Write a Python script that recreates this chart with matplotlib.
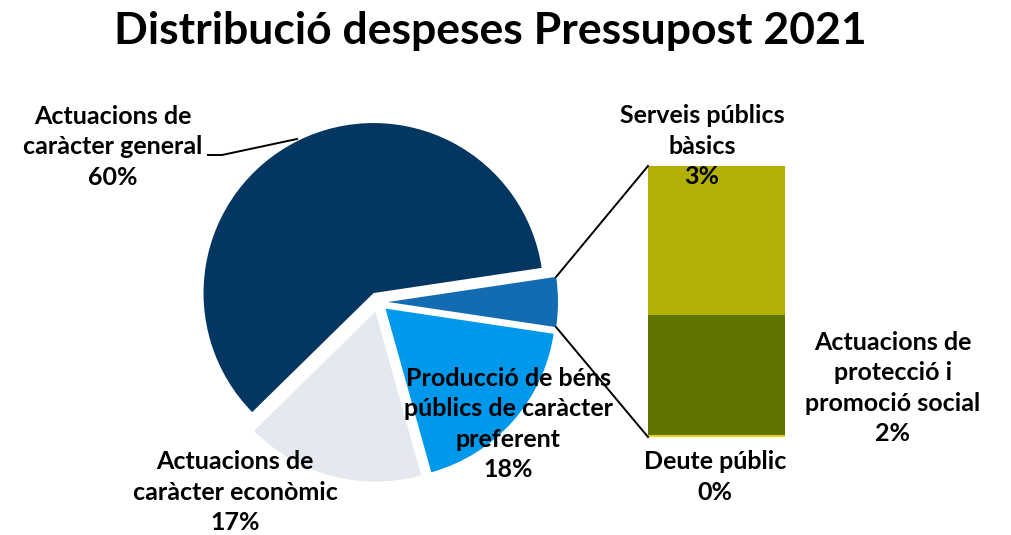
import math
import numpy as np
import matplotlib.pyplot as plt

plt.rcParams['font.family'] = ['Lato', 'DejaVu Sans']

title = "Distribució despeses Pressupost 2021"

pie_labels = ["Actuacions de\ncaràcter general",
              "Actuacions de\ncaràcter econòmic",
              "Producció de béns\npúblics de caràcter\npreferent"]
pie_values = [60.0, 17.0, 18.3]
pie_colors = ["#033762", "#E4E9F0", "#0098EA"]
other_color = "#136CB1"

bar_labels = ["Deute públic",
              "Actuacions de\nprotecció i\npromoció social",
              "Serveis públics\nbàsics"]
bar_values = [0.03, 2.1, 2.6]
bar_colors = ["#E8D000", "#607500", "#B2B007"]

W, H = 1011, 535
fig = plt.figure(figsize=(W / 100, H / 100), dpi=100)
ax = fig.add_axes([0, 0, 1, 1])
ax.set_xlim(0, W)
ax.set_ylim(0, H)
ax.axis("off")

def Y(y):  # image row -> data y
    return H - y

# pie: other slice first, centred on 0 deg, then the rest counterclockwise
other = sum(bar_values)
vals = [other] + pie_values
total = sum(vals)
half = 360 * other / total / 2
center = (378, Y(302))
R = 170
expl = 10
wedges, _ = ax.pie(vals, colors=[other_color] + pie_colors, startangle=-half,
                   counterclock=True, radius=R, center=center,
                   explode=[expl] * len(vals), frame=True)

# bar of the "other" slice
bx, bw = 716.5, 137
bottom0 = Y(437)
scale = (Y(166) - Y(437)) / other
bottoms = np.concatenate([[0], np.cumsum(bar_values)[:-1]])
ax.bar([bx] * len(bar_values), np.array(bar_values) * scale, width=bw,
       bottom=bottom0 + bottoms * scale, color=bar_colors, linewidth=0)

# connector lines
cx = center[0] + expl
cy = center[1]
t = math.radians(half)
ax.plot([cx + R * math.cos(t), bx - bw / 2], [cy + R * math.sin(t), Y(166)],
        color="black", lw=1.4)
ax.plot([cx + R * math.cos(t), bx - bw / 2], [cy - R * math.sin(t), Y(437)],
        color="black", lw=1.4)

fs = 18
kw = dict(ha="center", va="center", fontsize=fs, fontweight="bold",
          linespacing=1.38, color="black")

def pct(v):
    return f"{round(v)}%"

ax.text(113, Y(147), f"{pie_labels[0]}\n{pct(pie_values[0])}", **kw)
ax.text(235, Y(492), f"{pie_labels[1]}\n{pct(pie_values[1])}", **kw)
ax.text(508, Y(424), f"{pie_labels[2]}\n{pct(pie_values[2])}", **kw)
ax.text(702, Y(146), f"{bar_labels[2]}\n{pct(bar_values[2])}", **kw)
ax.text(893, Y(388), f"{bar_labels[1]}\n{pct(bar_values[1])}", **kw)
ax.text(715, Y(477), f"{bar_labels[0]}\n{pct(bar_values[0])}", **kw)

# leader line for the big slice
ax.plot([208, 222, 297], [Y(155), Y(155), Y(139)], color="black", lw=1.4)

ax.text(490, Y(31), title, ha="center", va="center", fontsize=32,
        fontweight="bold")

fig.savefig("out.png", dpi=100)
